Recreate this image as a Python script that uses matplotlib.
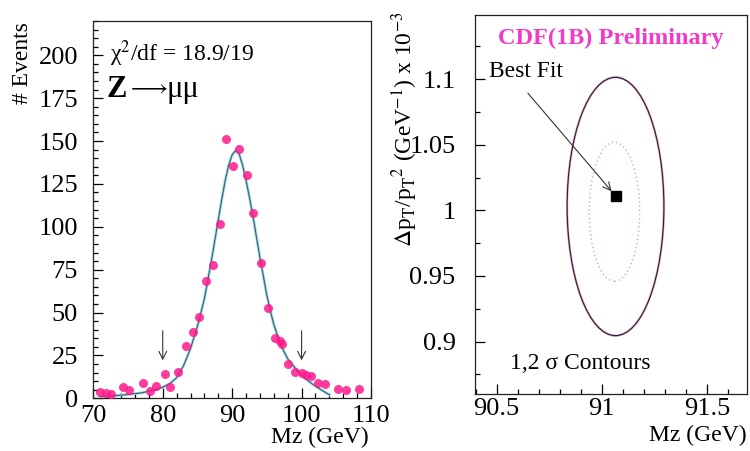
#! /usr/bin/env python3

import matplotlib
matplotlib.use("Agg")
import matplotlib.pyplot as plt
from matplotlib.patches import Ellipse
from matplotlib.ticker import MultipleLocator

# Z -> mu mu mass spectrum
mz = [71.0, 71.8, 72.6, 74.3, 75.2, 77.2, 78.2, 79.1, 80.3, 81.0, 82.2,
      83.3, 84.3, 85.2, 86.2, 87.2, 88.2, 89.1, 90.1, 91.0, 92.1, 93.0,
      94.1, 95.2, 96.1, 96.9, 97.2, 98.1, 99.0, 100.0, 100.7, 101.3,
      102.3, 103.3, 105.2, 106.4, 108.2]
events = [3.9, 3.0, 2.3, 6.8, 4.8, 9.0, 4.4, 7.0, 14.2, 6.6, 15.4,
          30.2, 38.4, 47.4, 68.6, 77.5, 101.6, 151.2, 135.2, 145.3, 130.0,
          108.2, 79.0, 52.6, 35.1, 33.5, 31.7, 20.0, 15.4, 14.8, 13.6, 13.0,
          9.0, 8.4, 5.2, 4.6, 5.4]

# fitted line shape
fit_x = [71, 73, 75, 77, 79, 80, 81, 82, 83, 84, 85, 86, 86.5, 87, 87.5,
         88, 88.5, 89, 89.5, 90, 90.5, 91, 91.5, 92, 92.5, 93, 93.5, 94,
         94.5, 95, 95.5, 96, 97, 98, 99, 100, 101, 102, 103, 104]
fit_y = [1.0, 1.5, 2.2, 3.2, 5.0, 6.5, 8.5, 12, 19, 29, 42, 58, 69, 80, 92,
         104, 116, 127, 136, 142, 144.5, 142.5, 136, 127, 117, 106, 94, 82,
         71, 60, 51, 43, 31, 23, 18, 13.5, 10, 7, 4.5, 2]

cut_edges = [80, 100]

# Mz vs momentum scale contours
best_fit = (91.065, 1.011)
contour_center = [(91.065, 1.003), (91.06, 0.999)]
contour_width = [0.46, 0.24]
contour_height = [0.197, 0.106]

plt.rcParams["font.family"] = ["Liberation Serif", "DejaVu Serif"]
plt.rcParams["mathtext.fontset"] = "stix"

fig = plt.figure(figsize=(7.5, 4.51), dpi=100)
ax1 = fig.add_axes([0.1244, 0.1169, 0.3703, 0.8365])
ax2 = fig.add_axes([0.6333, 0.1264, 0.3627, 0.8403])

for ax in (ax1, ax2):
    ax.tick_params(which="both", direction="in", top=False, right=False,
                   labelsize=19, width=0.9)
    ax.tick_params(which="major", length=7)
    ax.tick_params(which="minor", length=3.5)
    for s in ax.spines.values():
        s.set_linewidth(0.9)
        s.set_color("#222222")

# left panel
ax1.plot(fit_x, fit_y, color="#8fdcec", lw=2.0, zorder=2)
ax1.plot(fit_x, fit_y, color="#4c5a66", lw=0.8, zorder=3)
ax1.plot(mz, events, "o", color="#ff1a8c", markersize=6.5, alpha=0.85,
         markeredgewidth=0, zorder=4)
for xc in cut_edges:
    ax1.annotate("", xy=(xc, 20.5), xytext=(xc, 41),
                 arrowprops=dict(arrowstyle="->", color="#333333", lw=0.8,
                                 mutation_scale=14))

ax1.set_xlim(70, 110)
ax1.set_ylim(0, 220)
ax1.xaxis.set_major_locator(MultipleLocator(10))
ax1.xaxis.set_minor_locator(MultipleLocator(2))
ax1.yaxis.set_major_locator(MultipleLocator(25))
ax1.yaxis.set_minor_locator(MultipleLocator(5))
ax1.tick_params(axis="y", pad=11)
ax1.tick_params(axis="x", pad=5)
ax1.set_xticks([70, 80, 90, 100, 110])

ax1.text(0.06, 0.955, "χ$^2$/df = 18.9/19", transform=ax1.transAxes,
         fontsize=17, va="top", ha="left")
ax1.text(0.049, 0.798, "Z", transform=ax1.transAxes,
         fontsize=22, fontweight="bold", va="baseline", ha="left")
ax1.text(0.122, 0.808, r"$\longrightarrow$", transform=ax1.transAxes,
         fontsize=17, va="baseline", ha="left")
ax1.text(0.265, 0.798, "μμ", transform=ax1.transAxes,
         fontsize=22, va="baseline", ha="left")
fig.text(0.030, 0.95, "# Events", rotation=90, fontsize=17,
         ha="center", va="top")
fig.text(0.492, 0.03, "Mz (GeV)", fontsize=17, ha="right", va="center")

# right panel
for k, (c, w, h) in enumerate(zip(contour_center, contour_width,
                                  contour_height)):
    if k == 0:
        ax2.add_patch(Ellipse(c, w, h, fill=False, ec="#f060d0", lw=1.8,
                              alpha=0.45))
        ax2.add_patch(Ellipse(c, w, h, fill=False, ec="#2a2a2a", lw=0.9))
    else:
        ax2.add_patch(Ellipse(c, w, h, fill=False, ec="#e8a0b8", lw=1.0,
                              ls=(0, (1, 2))))
ax2.plot(*best_fit, "s", color="black", markersize=7, zorder=5)
ax2.annotate("", xy=(best_fit[0] - 0.01, best_fit[1] + 0.002),
             xytext=(90.64, 1.091),
             arrowprops=dict(arrowstyle="->", color="#333333", lw=0.8,
                             mutation_scale=14))
ax2.text(90.465, 1.106, "Best Fit", fontsize=17, ha="left", va="center")
ax2.text(0.5, 0.965, "CDF(1B) Preliminary", transform=ax2.transAxes,
         fontsize=17.5, fontweight="bold", color="#f03cc8", ha="center",
         va="top")
ax2.text(90.563, 0.883, "1,2 σ Contours", fontsize=17,
         ha="left", va="center")

ax2.set_xlim(90.397, 91.69)
ax2.set_ylim(0.86, 1.149)
ax2.xaxis.set_major_locator(MultipleLocator(0.5))
ax2.xaxis.set_minor_locator(MultipleLocator(0.1))
ax2.yaxis.set_major_locator(MultipleLocator(0.05))
ax2.yaxis.set_minor_locator(MultipleLocator(0.025))
ax2.set_xticks([90.5, 91, 91.5])
ax2.set_xticklabels(["90.5", "91", "91.5"])
ax2.set_yticks([0.9, 0.95, 1.0, 1.05, 1.1])
ax2.set_yticklabels(["0.9", "0.95", "1", "1.05", "1.1"])
ax2.tick_params(axis="y", pad=14)
ax2.tick_params(axis="x", pad=3)

fig.text(0.54, 0.975,
         r"$\Delta$p$_\mathrm{T}$/p$_\mathrm{T}$$^2$ (GeV$^{-1}$) x 10$^{-3}$",
         rotation=90, fontsize=17, ha="center", va="top")
fig.text(0.996, 0.035, "Mz (GeV)", fontsize=17, ha="right", va="center")

plt.savefig("out.png")
plt.close()
